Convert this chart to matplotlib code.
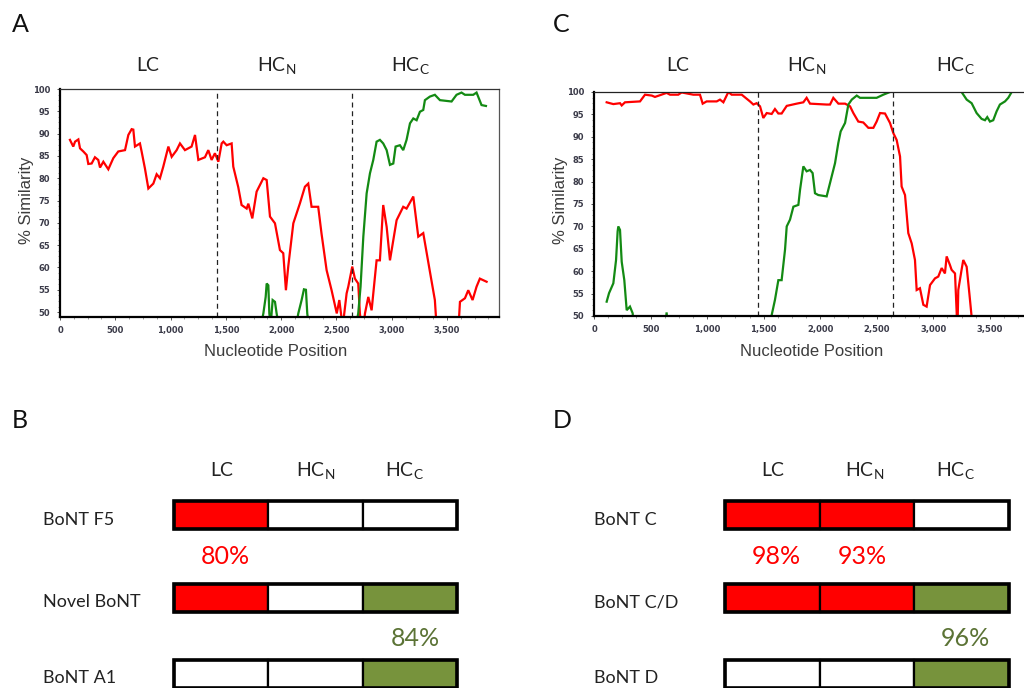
import numpy as np
import matplotlib
matplotlib.use("Agg")
import matplotlib.pyplot as plt
from matplotlib.ticker import FuncFormatter, MultipleLocator

plt.rcParams['mathtext.fontset'] = 'custom'
plt.rcParams['mathtext.rm'] = 'Lato'
plt.rcParams['mathtext.it'] = 'Lato:italic'
plt.rcParams['mathtext.bf'] = 'Lato:bold'

# ---------------- data ----------------
domains = ["LC", "HC$_\\mathrm{N}$", "HC$_\\mathrm{C}$"]

A_red_x = [90,120,136,166,181,211,241,256,286,316,346,362,392,437,482,527,588,618,648,663,678,723,738,768,799,844,874,904,934,980,1010,1055,1085,1130,1190,1221,1251,1311,1341,1371,1401,1432,1462,1477,1507,1552,1567,1612,1642,1688,1703,1739,1778,1839,1869,1899,1944,1989,2019,2043,2064,2110,2170,2215,2245,2275,2335,2365,2411,2456,2503,2526,2547,2565,2592,2607,2643,2667,2697,2712,2725,2745,2758,2788,2818,2863,2893,2923,2954,2984,3044,3104,3134,3195,3240,3285,3345,3390,3410,3600,3617,3662,3692,3731,3767,3797,3858]
A_red_y = [88.6,87.1,88.2,88.7,86.7,86.0,85.2,83.2,83.3,84.7,84.1,82.4,83.7,82.0,84.5,86.0,86.3,89.7,91.0,90.9,87.1,87.8,86.0,82.2,77.7,78.8,80.9,80.0,82.6,87.1,84.8,86.3,87.8,86.3,87.1,89.7,84.1,84.7,86.3,84.1,85.6,83.7,87.8,88.2,87.4,87.8,82.6,78.0,74.0,73.2,74.3,71.0,77.0,80.0,79.6,71.4,69.9,63.9,63.2,54.9,60.2,69.9,74.4,78.1,78.8,73.6,73.6,67.6,59.4,54.9,49.7,52.7,48.5,48.5,54.2,55.7,60.2,57.5,56.4,49.7,47.0,47.0,49.7,53.4,50.4,61.6,61.6,74.0,69.1,61.6,70.6,73.6,73.2,75.9,66.9,67.7,59.1,52.7,45.0,45.0,52.3,53.1,54.9,52.7,55.7,57.5,56.8]

A_green_x = [1800,1839,1860,1869,1884,1893,1905,1923,1944,1959,1990,2120,2155,2185,2206,2224,2236,2260,2660,2697,2718,2743,2773,2803,2833,2863,2893,2923,2954,2984,3014,3035,3074,3104,3134,3165,3195,3225,3255,3285,3300,3345,3390,3436,3541,3586,3631,3662,3737,3767,3812,3852]
A_green_y = [45,49.7,53.4,56.4,56.0,49.7,47,52.7,52.3,49.7,45,45,49.7,52.7,55.1,55.0,49.7,45,45,49.7,55.7,66.9,76.6,81.1,84.1,88.2,88.6,87.8,86.3,83.0,83.3,87.1,87.4,86.3,88.6,92.3,93.4,93.0,94.9,95.3,97.5,98.3,98.7,97.5,97.2,98.7,99.2,98.7,98.7,99.2,96.4,96.2]

C_red_x = [112,141,171,230,245,274,407,451,511,539,642,672,745,775,878,937,961,996,1085,1114,1144,1188,1217,1306,1379,1409,1438,1468,1497,1527,1571,1600,1630,1659,1704,1792,1851,1880,1910,2057,2087,2116,2161,2220,2264,2293,2337,2381,2426,2470,2499,2529,2573,2617,2647,2676,2706,2720,2750,2779,2809,2838,2853,2882,2912,2941,2971,3015,3044,3074,3103,3118,3147,3162,3192,3207,3212,3221,3250,3265,3295,3319,3339,3360]
C_red_y = [97.7,97.5,97.3,97.5,97.0,97.7,97.9,99.4,99.2,98.9,99.8,99.4,99.4,99.9,99.4,99.4,97.4,97.9,97.9,98.3,97.7,100.0,99.4,99.4,97.9,97.2,97.5,96.8,94.2,95.3,95.1,96.2,95.2,95.2,96.9,97.4,97.7,98.7,97.4,97.2,97.2,98.7,97.4,97.4,96.8,95.3,93.4,93.2,92.0,92.0,93.4,95.3,95.2,93.1,90.8,89.3,85.6,78.9,77.0,68.5,66.2,62.5,55.8,56.2,52.5,52.1,56.9,58.4,58.8,60.7,59.5,63.3,61.4,60.3,59.5,50.6,45.0,55.8,60.3,62.5,61.0,55.0,49.8,45.0]

C_green_x = [112,133,171,195,209,215,230,245,268,289,318,342,360,620,642,660,680,1550,1571,1600,1630,1659,1689,1704,1733,1763,1807,1822,1851,1880,1910,1933,1954,1983,2057,2101,2131,2160,2181,2220,2249,2279,2323,2352,2499,2558,2617,2660,3230,3250,3295,3339,3383,3427,3457,3477,3501,3530,3560,3589,3634,3663,3693,3720]
C_green_y = [53.2,55.1,57.3,62.5,68.9,70.0,69.2,62.1,58.0,51.3,52.1,50.6,45,45,50.8,45,45,45,50.2,53.6,58.0,58.0,64.8,70.0,71.5,74.4,74.8,78.2,83.4,82.3,82.6,81.9,77.4,77.0,76.7,81.1,84.1,88.6,91.2,93.1,97.2,98.3,99.2,98.7,98.7,99.4,100.0,105,105,100.0,98.3,97.5,95.3,94.0,93.7,94.4,93.4,93.7,95.7,97.2,97.9,98.7,100.0,105]

A_boundaries = [1420, 2640]
C_boundaries = [1447, 2641]

B_rows = ["BoNT F5", "Novel BoNT", "BoNT A1"]
B_fill = [["red", "white", "white"], ["red", "white", "green"], ["white", "white", "green"]]
B_pct_top = [("80%", 0, "red")]      # (label, domain, colour)
B_pct_bot = [("84%", 2, "green")]

D_rows = ["BoNT C", "BoNT C/D", "BoNT D"]
D_fill = [["red", "red", "white"], ["red", "red", "green"], ["white", "white", "green"]]
D_pct_top = [("98%", 0, "red"), ("93%", 1, "red")]
D_pct_bot = [("96%", 2, "green")]

assert len(A_red_x) == len(A_red_y)
assert len(A_green_x) == len(A_green_y)
assert len(C_red_x) == len(C_red_y)
assert len(C_green_x) == len(C_green_y)

# ---------------- style ----------------
RED = "#FF0000"
GREEN_LINE = "#138A13"
GREEN_FILL = "#77933C"
GREEN_TXT = "#5B7335"
W, H = 1024, 688
HFONT = "Lato"
TXT = "#222222"

fig = plt.figure(figsize=(W / 100, H / 100), dpi=100)


def fx(x):
    return x / W


def fy(y):
    return 1 - y / H


def sim_axes(left, top, right, bottom, ylo, xhi, xs, ys, bounds, topspine_color):
    ax = fig.add_axes([fx(left), fy(bottom), (right - left) / W, (bottom - top) / H])
    ax.plot(xs[0], ys[0], color=RED, lw=1.6, solid_joinstyle='miter')
    ax.plot(xs[1], ys[1], color=GREEN_LINE, lw=1.6, solid_joinstyle='miter')
    for b in bounds:
        ax.axvline(b, color="#222222", lw=0.9, ls=(0, (4, 3)))
    ax.set_xlim(0, xhi)
    ax.set_ylim(ylo, 100)
    ax.xaxis.set_major_locator(MultipleLocator(500))
    ax.xaxis.set_minor_locator(MultipleLocator(125))
    ax.yaxis.set_major_locator(MultipleLocator(5))
    ax.yaxis.set_minor_locator(MultipleLocator(1.25))
    ax.xaxis.set_major_formatter(FuncFormatter(lambda v, p: f"{int(v):,}"))
    ax.tick_params(axis='both', which='major', length=2.5, width=0.7, labelsize=6,
                   labelcolor="#3a3a48", color="#555555")
    ax.tick_params(axis='x', which='major', pad=4)
    ax.tick_params(axis='y', which='major', pad=4.5)
    ax.tick_params(axis='both', which='minor', length=1.5, width=0.5, color="#777777")
    for t in ax.get_xticklabels() + ax.get_yticklabels():
        t.set_fontweight('bold')
    ax.spines['left'].set_linewidth(1.6)
    ax.spines['bottom'].set_linewidth(1.6)
    ax.spines['top'].set_linewidth(0.9)
    ax.spines['right'].set_linewidth(0.9)
    ax.spines['top'].set_color(topspine_color)
    ax.spines['right'].set_color("#555555")
    return ax


axA = sim_axes(60, 89, 499, 317, 48.9, 3970, (A_red_x, A_green_x), (A_red_y, A_green_y),
               A_boundaries, "#333333")
axC = sim_axes(594, 92, 594 + 449, 316, 50, 3970, (C_red_x, C_green_x), (C_red_y, C_green_y),
               C_boundaries, "#222222")

# axis labels
for cx, ly in [(27, 200), (560, 200)]:
    fig.text(fx(cx), fy(ly), "% Similarity", rotation=90, ha='center', va='center',
             fontsize=12, family="Liberation Sans", color="#3c3c3c")
for cx in [276, 812]:
    fig.text(fx(cx), fy(352), "Nucleotide Position", ha='center', va='center',
             fontsize=12, family="Liberation Sans", color="#3c3c3c")

# panel letters
for letter, x, y in [("A", 20, 25), ("C", 561, 25), ("B", 20, 421), ("D", 562, 421)]:
    fig.text(fx(x), fy(y), letter, ha='center', va='center', fontsize=18, family=HFONT, color="#111111")

# top domain headers (cap centre ~ y=64)
for xs in [(148, 277, 410), (678, 807, 955)]:
    for name, x in zip(domains, xs):
        fig.text(fx(x), fy(64), name, ha='center', va='baseline', fontsize=14, family=HFONT,
                 color=TXT, transform=fig.transFigure) if False else None
        fig.text(fx(x), fy(71), name, ha='center', va='baseline', fontsize=14, family=HFONT, color=TXT)


# ---------------- bar schematics ----------------
def schematic(bar_left, bar_right, rows, fills, pcts_top, pcts_bot, label_x, header_dx, pct_dx):
    unit = (bar_right - bar_left) / 3.0
    row_unit = 82.5
    y0 = 515.0
    left_px, right_px = (0, 512) if bar_left < 512 else (512, 1024)
    ax = fig.add_axes([fx(left_px), 0, (right_px - left_px) / W, fy(400)])
    ax.set_xlim((left_px - bar_left) / unit, (right_px - bar_left) / unit)
    ax.set_ylim((688 - y0) / row_unit, (400 - y0) / row_unit)
    ax.axis('off')
    colmap = {"red": RED, "white": "white", "green": GREEN_FILL}
    row_pos = [0.0, 1.0, 1.925]
    bh = 28 / row_unit
    for rp, name, frow in zip(row_pos, rows, fills):
        ax.barh([rp] * 3, [1, 1, 1], left=[0, 1, 2], height=bh,
                color=[colmap[c] for c in frow], edgecolor="black", linewidth=1.6, zorder=2)
        ax.barh([rp], [3], left=[0], height=bh, fill=False, edgecolor="black",
                linewidth=2.6, zorder=3)
        ax.text((label_x - bar_left) / unit, rp + 0.055, name, ha='left', va='center',
                fontsize=13, family=HFONT, color=TXT)
    for i, name in enumerate(domains):
        ax.text(i + 0.5 + header_dx[i], (476 - y0) / row_unit, name, ha='center', va='baseline',
                fontsize=14, family=HFONT, color=TXT)
    for k, (lab, d, c) in enumerate(pcts_top):
        ax.text(d + 0.5 + pct_dx[0][k], (556 - y0) / row_unit, lab, ha='center', va='center',
                fontsize=18, family=HFONT, color=RED if c == "red" else GREEN_TXT)
    for k, (lab, d, c) in enumerate(pcts_bot):
        ax.text(d + 0.5 + pct_dx[1][k], (638 - y0) / row_unit, lab, ha='center', va='center',
                fontsize=18, family=HFONT, color=RED if c == "red" else GREEN_TXT)
    return ax


schematic(174, 457, B_rows, B_fill, B_pct_top, B_pct_bot, 43,
          (0.01, 0.0, -0.06), ((0.04,), (0.06,)))
schematic(725, 1009, D_rows, D_fill, D_pct_top, D_pct_bot, 594,
          (0.0, -0.02, -0.07), ((0.04, -0.05), (0.04,)))

fig.savefig("out.png", dpi=100)
